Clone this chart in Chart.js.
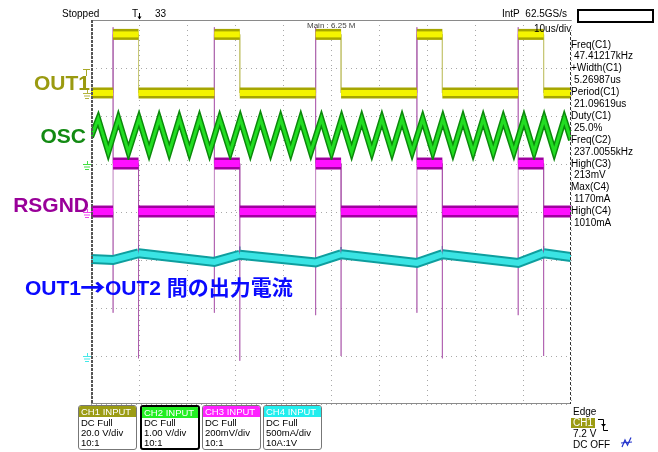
<!DOCTYPE html>
<html>
<head>
<meta charset="utf-8">
<script src="https://cdn.jsdelivr.net/npm/chart.js@4.4.0/dist/chart.umd.min.js"></script>
<style>
  html, body { margin:0; padding:0; background:#fff; }
  #wrap { position:relative; width:658px; height:452px; overflow:hidden; font-family:"Liberation Sans", Arial, sans-serif; color:#000; }
  #scope { position:absolute; left:0; top:0; }
  .t { position:absolute; white-space:nowrap; font-size:10px; line-height:normal; }
  .lbl { position:absolute; left:0; width:90px; text-align:right; font-weight:bold; font-size:21px; line-height:normal; white-space:nowrap; }
  .cur { position:absolute; left:25px; top:269px; font-weight:bold; font-size:21px; line-height:normal; white-space:nowrap; color:#0a0aff;
         font-family:"Liberation Sans", "Noto Sans CJK JP", sans-serif; }
  .cur .arr { font-family:"Noto Sans CJK JP", sans-serif; font-weight:900; font-size:22px; display:inline-block; transform:scaleX(1.15); margin:0 1px; }
  .meas { position:absolute; left:571px; top:38.5px; font-size:10px; line-height:11.9px; white-space:nowrap; }
  .meas .v { padding-left:3px; }
  .ch { position:absolute; top:405px; box-sizing:border-box; height:45px; border:1px solid #777; border-radius:3px; font-size:9.5px; line-height:10.2px; overflow:hidden; white-space:nowrap; }
  .ch .hd { color:#fff; height:11px; line-height:11px; padding-left:2px; }
  .ch .bd { padding-left:2px; padding-top:1px; }
  .box { position:absolute; left:577px; top:9px; width:77px; height:14px; box-sizing:border-box; border:2px solid #000; }
</style>
</head>
<body>
<div id="wrap">
  <canvas id="scope" width="658" height="452"></canvas>

  <div class="t" style="left:62px;top:8px;">Stopped</div>
  <div class="t" style="left:132px;top:8px;">T</div>
  <div class="t" style="left:155px;top:8px;">33</div>
  <div class="t" style="left:502px;top:8px;">IntP&nbsp; 62.5GS/s</div>
  <div class="box"></div>
  <div class="t" style="left:534px;top:23px;">10us/div</div>
  <div class="t" style="left:307px;top:21px;font-size:8px;color:#444;">Main : 6.25 M</div>

  <div class="lbl" style="top:71px;color:#9a9a10;">OUT1</div>
  <div class="lbl" style="top:124px;width:86px;color:#138a13;">OSC</div>
  <div class="lbl" style="top:193px;width:89px;color:#990099;">RSGND</div>
  <div class="cur">OUT1<span class="arr">→</span>OUT2 間の出力電流</div>

  <div class="meas">
    <div>Freq(C1)</div><div class="v">47.41217kHz</div>
    <div>+Width(C1)</div><div class="v">5.26987us</div>
    <div>Period(C1)</div><div class="v">21.09619us</div>
    <div>Duty(C1)</div><div class="v">25.0%</div>
    <div>Freq(C2)</div><div class="v">237.0055kHz</div>
    <div>High(C3)</div><div class="v">213mV</div>
    <div>Max(C4)</div><div class="v">1170mA</div>
    <div>High(C4)</div><div class="v">1010mA</div>
  </div>

  <div class="ch" style="left:78px;width:59px;"><div class="hd" style="background:#9c9c14;">CH1 INPUT</div><div class="bd">DC Full<br>20.0 V/div<br>10:1</div></div>
  <div class="ch" style="left:140px;width:60px;border:2px solid #000;"><div class="hd" style="background:#22ee22;">CH2 INPUT</div><div class="bd" style="padding-top:0;">DC Full<br>1.00 V/div<br>10:1</div></div>
  <div class="ch" style="left:202px;width:59px;"><div class="hd" style="background:#ff22ff;">CH3 INPUT</div><div class="bd">DC Full<br>200mV/div<br>10:1</div></div>
  <div class="ch" style="left:263px;width:59px;"><div class="hd" style="background:#22eeee;">CH4 INPUT</div><div class="bd">DC Full<br>500mA/div<br>10A:1V</div></div>

  <div class="t" style="left:573px;top:406px;">Edge</div>
  <div class="t" style="left:571px;top:418px;width:24px;height:10px;line-height:10px;background:#9c9c14;color:#fff;padding-left:2px;box-sizing:border-box;">CH1</div>
  <div class="t" style="left:573px;top:428px;">7.2 V</div>
  <div class="t" style="left:573px;top:439px;">DC OFF</div>
</div>

<script>
// time in us (10 us/div), level in divisions (-4 .. 4)
const edgeRise = [4.6, 25.7, 46.8, 67.9, 89.0];
const edgeFall = [9.9, 31.0, 52.1, 73.2, 94.3];

const ch1Levels = [2.48, 3.70];          // low, high
const ch3Levels = [0.01, 1.01];          // low, high
const ch3RiseSpike = [-2.10, -2.10, -2.15, -2.10, -2.15];
const ch3FallSpike = [-3.05, -3.10, -3.00, -3.05, -3.00];
const ch3Overshoot = 3.85;

const ch2Time = [0, 1.5, 3.6, 5.7, 7.8, 10.0, 12.1, 14.2, 16.3, 18.4, 20.5, 22.6, 24.7, 26.8, 29.0, 31.1, 33.2,
  35.3, 37.4, 39.5, 41.6, 43.7, 45.8, 48.0, 50.1, 52.2, 54.3, 56.4, 58.5, 60.6, 62.7, 64.8, 66.9, 69.1, 71.2,
  73.3, 75.4, 77.5, 79.6, 81.7, 83.8, 85.9, 88.1, 90.2, 92.3, 94.4, 96.5, 98.6, 100];
const ch2Level = [1.56, 1.94, 1.25, 1.94, 1.25, 1.94, 1.25, 1.94, 1.25, 1.94, 1.25, 1.94, 1.25, 1.94, 1.25, 1.94, 1.25,
  1.94, 1.25, 1.94, 1.25, 1.94, 1.25, 1.94, 1.25, 1.94, 1.25, 1.94, 1.25, 1.94, 1.25, 1.94, 1.25, 1.94, 1.25,
  1.94, 1.25, 1.94, 1.25, 1.94, 1.25, 1.94, 1.25, 1.94, 1.25, 1.94, 1.25, 1.94, 1.50];

const ch4Time = [0, 4.6, 9.9, 25.7, 31.0, 46.8, 52.1, 67.9, 73.2, 89.0, 94.3, 100];
const ch4Level = [-0.98, -1.00, -0.86, -1.04, -0.89, -1.05, -0.88, -1.06, -0.88, -1.06, -0.86, -0.94];
const ch4Spike = [0, 0, 0.16, 0, 0.17, 0, 0.15, 0, 0.17, 0, 0.15, 0];

const groundLevels = [2.48, 1.0, 0.0, -3.0];
const groundColors = ['#b4b43c', '#44dd44', '#ee44ee', '#44e8e8'];

// build point lists
const ch1Pts = [{x: 0, y: ch1Levels[0]}];
edgeRise.forEach((r, i) => {
  ch1Pts.push({x: r, y: ch1Levels[0]}, {x: r, y: ch1Levels[1]},
              {x: edgeFall[i], y: ch1Levels[1]}, {x: edgeFall[i], y: ch1Levels[0]});
});
ch1Pts.push({x: 100, y: ch1Levels[0]});

const ch3Pts = [{x: 0, y: ch3Levels[0]}];
edgeRise.forEach((r, i) => {
  ch3Pts.push({x: r, y: ch3Levels[0]}, {x: r, y: ch3RiseSpike[i]}, {x: r, y: ch3Overshoot}, {x: r, y: ch3Levels[1]},
              {x: edgeFall[i], y: ch3Levels[1]}, {x: edgeFall[i], y: ch3FallSpike[i]}, {x: edgeFall[i], y: ch3Levels[0]});
});
ch3Pts.push({x: 100, y: ch3Levels[0]});

const ch2Pts = ch2Time.map((t, i) => ({x: t, y: ch2Level[i]}));

const ch4Pts = [];
ch4Time.forEach((t, i) => {
  ch4Pts.push({x: t, y: ch4Level[i]});
  if (ch4Spike[i]) ch4Pts.push({x: t, y: ch4Level[i] + ch4Spike[i]}, {x: t, y: ch4Level[i]});
});

const isVert = c => c.p0.parsed.x === c.p1.parsed.x;
const clear = 'rgba(0,0,0,0)';

function band(pts, color, width, order) {
  return {
    data: pts, borderColor: color, borderWidth: width, order: order,
    pointRadius: 0, tension: 0, fill: false, borderCapStyle: 'butt', borderJoinStyle: 'miter',
    segment: { borderColor: c => isVert(c) ? clear : undefined }
  };
}
function edges(pts, upColor, downColor) {
  return {
    data: pts, borderColor: upColor, borderWidth: 1, order: 10,
    pointRadius: 0, tension: 0, fill: false,
    segment: { borderColor: c => !isVert(c) ? clear : (c.p1.parsed.y > c.p0.parsed.y ? upColor : downColor) }
  };
}

const framePlugin = {
  id: 'scopeFrame',
  afterDraw(chart) {
    const ctx = chart.ctx, a = chart.chartArea, ys = chart.scales.y;
    ctx.save();
    ctx.lineWidth = 1;
    ctx.strokeStyle = '#8a8a8a';
    ctx.beginPath(); ctx.moveTo(a.left, a.top + 0.5); ctx.lineTo(a.right, a.top + 0.5); ctx.stroke();
    ctx.beginPath(); ctx.moveTo(a.left, a.bottom - 0.5); ctx.lineTo(a.right, a.bottom - 0.5); ctx.stroke();
    ctx.strokeStyle = '#555';
    ctx.lineWidth = 2;
    ctx.setLineDash([3, 1]);
    ctx.beginPath(); ctx.moveTo(a.left + 1, a.top); ctx.lineTo(a.left + 1, a.bottom); ctx.stroke();
    ctx.lineWidth = 1;
    ctx.strokeStyle = '#333';
    ctx.setLineDash([3, 2]);
    ctx.beginPath(); ctx.moveTo(a.right - 0.5, a.top + 12); ctx.lineTo(a.right - 0.5, a.bottom); ctx.stroke();
    ctx.setLineDash([]);

    // ground markers
    groundLevels.forEach((g, i) => {
      const y = Math.round(ys.getPixelForValue(g));
      ctx.strokeStyle = groundColors[i];
      [[83, 91], [84, 90], [85, 89]].forEach(([x0, x1], k) => {
        ctx.beginPath(); ctx.moveTo(x0, y + 0.5 + k * 2.5); ctx.lineTo(x1, y + 0.5 + k * 2.5); ctx.stroke();
      });
      ctx.beginPath(); ctx.moveTo(87.5, y - 3); ctx.lineTo(87.5, y); ctx.stroke();
    });

    // CH1 trigger level marker
    ctx.strokeStyle = '#a8a828';
    ctx.beginPath(); ctx.moveTo(83, 69.5); ctx.lineTo(90, 69.5); ctx.moveTo(86.5, 69.5); ctx.lineTo(86.5, 76); ctx.stroke();
    ctx.lineWidth = 2;
    ctx.beginPath(); ctx.moveTo(84, 78); ctx.lineTo(84, 90); ctx.stroke();
    ctx.lineWidth = 1;

    // header trigger arrow
    ctx.strokeStyle = '#000';
    ctx.beginPath(); ctx.moveTo(139.5, 13); ctx.lineTo(139.5, 19); ctx.stroke();
    ctx.fillStyle = '#000';
    ctx.beginPath(); ctx.moveTo(137.5, 16.5); ctx.lineTo(141.5, 16.5); ctx.lineTo(139.5, 19.5); ctx.fill();

    // trigger slope icon
    ctx.beginPath(); ctx.moveTo(598, 419.5); ctx.lineTo(603.5, 419.5); ctx.lineTo(603.5, 430.5); ctx.lineTo(608, 430.5); ctx.stroke();
    ctx.beginPath(); ctx.moveTo(601, 424); ctx.lineTo(606, 424); ctx.lineTo(603.5, 427); ctx.fill();

    // coupling icon
    ctx.strokeStyle = '#2233cc';
    ctx.lineWidth = 1.2;
    ctx.beginPath(); ctx.moveTo(622, 447); ctx.lineTo(625, 440); ctx.lineTo(627.5, 445); ctx.lineTo(631, 437.5); ctx.stroke();
    ctx.beginPath(); ctx.moveTo(621, 443); ctx.lineTo(632, 442); ctx.stroke();
    ctx.restore();
  }
};

new Chart(document.getElementById('scope').getContext('2d'), {
  type: 'line',
  data: {
    datasets: [
      edges(ch1Pts, 'rgba(175,110,175,0.9)', 'rgba(200,200,120,0.9)'),
      edges(ch3Pts, 'rgba(165,75,165,0.7)', 'rgba(165,75,165,0.7)'),
      edges(ch4Pts, '#12a0a0', '#12a0a0'),
      band(ch1Pts, '#a6a600', 11, 6),
      band(ch2Pts, '#0b8a0b', 6, 6),
      band(ch3Pts, '#a000a0', 12, 6),
      band(ch4Pts, '#0e9e9e', 10, 6),
      band(ch1Pts, '#f4f400', 6, 2),
      band(ch2Pts, '#22dd22', 3, 2),
      band(ch3Pts, '#ff10ff', 7, 2),
      band(ch4Pts, '#3ae4e4', 6, 2)
    ]
  },
  options: {
    responsive: false,
    maintainAspectRatio: false,
    devicePixelRatio: 1,
    animation: false,
    events: [],
    layout: { padding: { left: 91, top: 20, right: 87, bottom: 48 } },
    plugins: { legend: { display: false }, tooltip: { enabled: false } },
    scales: {
      x: {
        type: 'linear', min: 0, max: 100,
        ticks: { display: false, stepSize: 10 },
        grid: { color: '#a8a8a8', drawTicks: false },
        border: { display: false, dash: [1, 4] }
      },
      y: {
        type: 'linear', min: -4, max: 4,
        ticks: { display: false, stepSize: 1 },
        grid: { color: '#a8a8a8', drawTicks: false },
        border: { display: false, dash: [1, 4] }
      }
    }
  },
  plugins: [framePlugin]
});
</script>
</body>
</html>
